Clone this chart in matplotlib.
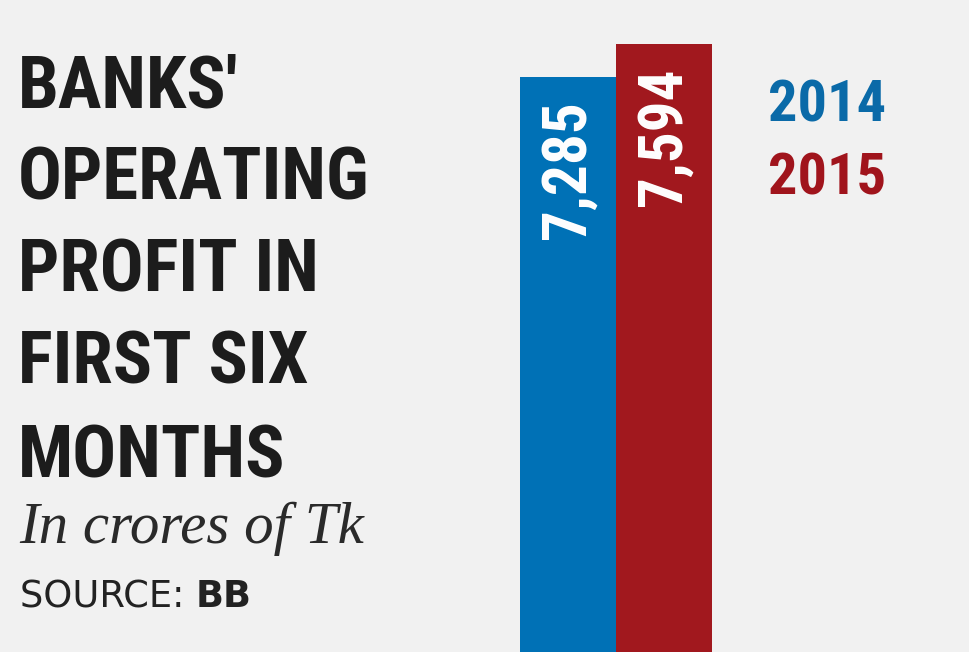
import matplotlib
matplotlib.use("Agg")
import matplotlib.pyplot as plt
from matplotlib import font_manager

# ---- data ----
categories = ["2014", "2015"]
values = [7285, 7594]
title_lines = ["BANKS'", "OPERATING", "PROFIT IN", "FIRST SIX", "MONTHS"]
subtitle = "In crores of Tk"
source_label = "SOURCE:"
source_name = "BB"

# ---- styles ----
bar_colors = ["#0071b6", "#a1181e"]
legend_colors = ["#0a6aa8", "#a0141c"]
bg = "#f1f1f1"

names = {f.name for f in font_manager.fontManager.ttflist}
def pick(cands):
    for c in cands:
        if c in names:
            return c
    return "DejaVu Sans"
narrow = pick(["Roboto Condensed", "Liberation Sans Narrow", "DejaVu Sans Condensed", "Liberation Sans"])
serif = pick(["Liberation Serif", "DejaVu Serif"])

W, H = 969, 652
fig = plt.figure(figsize=(W / 100, H / 100), dpi=100, facecolor=bg)

def fx(px):
    return px / W
def fy(py):
    return 1 - py / H

# axes: bars from x=520 to 712, baseline at y=855 px (below figure), top at y=0
zero_px = 855
top_val = 8006
ax = fig.add_axes([fx(520), fy(zero_px), (712 - 520) / W, zero_px / H])
ax.set_facecolor("none")
x = list(range(len(categories)))
ax.bar(x, values, width=1.0, color=bar_colors, linewidth=0)
ax.set_xlim(-0.5, len(categories) - 0.5)
ax.set_ylim(0, top_val)
ax.axis("off")

for i, v in enumerate(values):
    ax.annotate(f"{v:,}", xy=(i, v), xytext=(0, -17), textcoords="offset points",
                rotation=90, ha="center", va="top", color="white",
                fontsize=44, fontfamily=narrow, fontweight="bold")

# legend text
leg_base = [122, 195]
for cat, col, yb in zip(categories, legend_colors, leg_base):
    fig.text(fx(827), fy(yb), cat, ha="center", va="baseline", color=col,
             fontsize=42, fontfamily=narrow, fontweight="bold")

# title
title_base = [107, 199, 291, 384, 477]
for line, yb in zip(title_lines, title_base):
    fig.text(fx(18), fy(yb), line, ha="left", va="baseline", color="#1c1c1c",
             fontsize=52.5, fontfamily=narrow, fontweight="bold")

fig.text(fx(19), fy(543), subtitle, ha="left", va="baseline", color="#2a2a2a",
         fontsize=42.5, fontfamily=serif, fontstyle="italic")

t = fig.text(fx(20), fy(607), source_label + " ", ha="left", va="baseline",
             color="#222222", fontsize=26.5, fontfamily="DejaVu Sans")
fig.canvas.draw()
bb = t.get_window_extent()
fig.text(bb.x1 / W, fy(607), source_name, ha="left", va="baseline",
         color="#222222", fontsize=26.5, fontfamily="DejaVu Sans", fontweight="bold")

fig.savefig("out.png", dpi=100, facecolor=bg)
